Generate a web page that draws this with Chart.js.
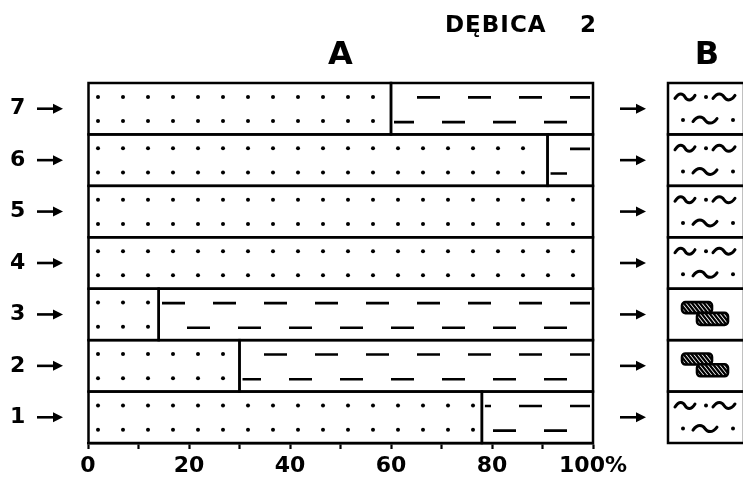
<!DOCTYPE html>
<html>
<head>
<meta charset="utf-8">
<script src="https://cdn.jsdelivr.net/npm/chart.js@4.4.1/dist/chart.umd.min.js"></script>
<style>
  html, body { margin: 0; padding: 0; background: #fff; overflow: hidden; width: 743px; height: 478px; }
  #wrap { position: relative; width: 743px; height: 478px; }
  #grain { position: absolute; left: 0; top: 0; }
  #litho { position: absolute; left: 600px; top: 0; }
</style>
</head>
<body>
<div id="wrap">
  <canvas id="grain" width="743" height="478"></canvas>
  <canvas id="litho" width="160" height="478"></canvas>
</div>
<script>
// Samples, bottom (1) to top (7)
const samples = ['1', '2', '3', '4', '5', '6', '7'];
// Panel A: share of sand (dotted) and clay (dashed), per cent
const sandPct = [78, 30, 14, 100, 100, 91, 60];
const clayPct = [22, 70, 86, 0, 0, 9, 40];
// Panel B: lithology symbol of each sample
const lithology = ['silt', 'nodules', 'nodules', 'silt', 'silt', 'silt', 'silt'];
const columnPct = [100, 100, 100, 100, 100, 100, 100];
// Labelled ticks of the per-cent axis
const pctTicks = [0, 20, 40, 60, 80, 100];
const siteName = 'DĘBICA';
const siteNumber = '2';
const panelTitles = ['A', 'B'];

const INK = '#000';
const FONT = 'DejaVu Sans';

function rectOf(el) {
  const l = Math.min(el.x, el.base), r = Math.max(el.x, el.base);
  return { l, r, t: el.y - el.height / 2, b: el.y + el.height / 2 };
}

function arrow(ctx, x0, x1, y) {
  ctx.save();
  ctx.strokeStyle = INK; ctx.fillStyle = INK; ctx.lineWidth = 2.6;
  ctx.beginPath(); ctx.moveTo(x0, y); ctx.lineTo(x1 - 6, y); ctx.stroke();
  ctx.beginPath(); ctx.moveTo(x1, y); ctx.lineTo(x1 - 10, y - 5); ctx.lineTo(x1 - 10, y + 5); ctx.closePath(); ctx.fill();
  ctx.restore();
}

// Dotted / dashed fills, outlines, arrows and headings of panel A
const grainPlugin = {
  id: 'grainTextures',
  afterDatasetsDraw(chart) {
    const ctx = chart.ctx, area = chart.chartArea;
    const rects = [];
    chart.data.datasets.forEach((ds, di) => {
      chart.getDatasetMeta(di).data.forEach((el, i) => {
        if (!ds.data[i]) return;
        const r = rectOf(el), h = r.b - r.t;
        rects.push(r);
        ctx.save();
        ctx.beginPath(); ctx.rect(r.l + 3, r.t, r.r - r.l - 6, h); ctx.clip();
        ctx.fillStyle = INK; ctx.strokeStyle = INK;
        if (ds.texture === 'dots') {
          for (let x = area.left + 10; x < r.r; x += 25) {
            for (const f of [0.27, 0.74]) {
              ctx.beginPath(); ctx.arc(x, r.t + f * h, 2, 0, Math.PI * 2); ctx.fill();
            }
          }
        } else {
          ctx.lineWidth = 2.6;
          for (const row of [{ f: 0.28, off: 23 }, { f: 0.76, off: 48 }]) {
            const y = r.t + row.f * h;
            ctx.beginPath();
            for (let x = area.left + row.off - 102; x < r.r; x += 51) {
              ctx.moveTo(x, y); ctx.lineTo(x + 23, y);
            }
            ctx.stroke();
          }
        }
        ctx.restore();
      });
    });
    ctx.save();
    ctx.strokeStyle = INK; ctx.lineWidth = 2.5;
    rects.forEach(r => ctx.strokeRect(r.l, r.t, r.r - r.l, r.b - r.t));
    ctx.restore();
  },
  afterDraw(chart) {
    const ctx = chart.ctx, area = chart.chartArea, ys = chart.scales.y;
    samples.forEach((s, i) => {
      const y = ys.getPixelForValue(i);
      arrow(ctx, 37, 63, y);
      arrow(ctx, 620, 646, y);
    });
    ctx.save();
    ctx.fillStyle = INK;
    ctx.textBaseline = 'alphabetic';
    ctx.font = `bold 32px "${FONT}"`;
    ctx.textAlign = 'center';
    ctx.fillText(panelTitles[0], (area.left + area.right) / 2, 64);
    ctx.fillText(panelTitles[1], 707, 64);
    ctx.textAlign = 'left';
    ctx.font = `bold 23px "${FONT}"`;
    ctx.letterSpacing = '1px';
    ctx.fillText(siteName, 445, 32);
    ctx.letterSpacing = '0px';
    ctx.fillText(siteNumber, 580, 32);
    ctx.restore();
  }
};

new Chart(document.getElementById('grain'), {
  type: 'bar',
  data: {
    labels: samples,
    datasets: [
      { label: 'sand', texture: 'dots', data: sandPct, backgroundColor: '#fff', borderWidth: 0, barPercentage: 1, categoryPercentage: 1 },
      { label: 'clay', texture: 'dashes', data: clayPct, backgroundColor: '#fff', borderWidth: 0, barPercentage: 1, categoryPercentage: 1 }
    ]
  },
  options: {
    indexAxis: 'y',
    responsive: false,
    animation: false,
    devicePixelRatio: 1,
    events: [],
    layout: { padding: { top: 83, right: 150, bottom: 0, left: 10 } },
    plugins: { legend: { display: false }, tooltip: { enabled: false } },
    scales: {
      x: {
        type: 'linear', stacked: true, min: 0, max: 100, position: 'bottom',
        afterFit(s) { s.height = 35; },
        grid: { display: true, drawOnChartArea: false, drawTicks: true, tickLength: 6, tickWidth: 2.2, tickColor: INK },
        border: { display: true, color: INK, width: 2.5 },
        ticks: {
          stepSize: 10, autoSkip: false, maxRotation: 0, padding: 4, color: INK,
          font: { family: FONT, size: 22, weight: 'bold' },
          callback: v => pctTicks.includes(v) ? (v === 100 ? v + '%' : String(v)) : ''
        }
      },
      y: {
        type: 'category', stacked: true, reverse: true,
        afterFit(s) { s.width = 78; },
        grid: { display: false, drawTicks: false },
        border: { display: false },
        ticks: { padding: 0, crossAlign: 'far', color: INK, font: { family: FONT, size: 22, weight: 'bold' } }
      }
    }
  },
  plugins: [grainPlugin]
});

// Lithology symbols of panel B
function tilde(ctx, x0, x1, y) {
  const w = x1 - x0;
  ctx.beginPath();
  ctx.moveTo(x0, y + 1.5);
  ctx.bezierCurveTo(x0 + w * 0.2, y - 5, x0 + w * 0.4, y - 3.5, x0 + w * 0.5, y);
  ctx.bezierCurveTo(x0 + w * 0.6, y + 3.5, x0 + w * 0.8, y + 5, x1, y - 1.5);
  ctx.stroke();
}
function dot(ctx, x, y) { ctx.beginPath(); ctx.arc(x, y, 2, 0, Math.PI * 2); ctx.fill(); }
function nodule(ctx, x, y, w, h) {
  ctx.save();
  ctx.beginPath(); ctx.roundRect(x, y, w, h, 3.5);
  ctx.fillStyle = '#fff'; ctx.fill();
  ctx.save(); ctx.clip();
  ctx.lineWidth = 2.3; ctx.lineCap = 'butt';
  ctx.beginPath();
  for (let sx = x - h; sx < x + w + h; sx += 4) { ctx.moveTo(sx, y); ctx.lineTo(sx + h * 0.8, y + h); }
  ctx.stroke();
  ctx.restore();
  ctx.beginPath(); ctx.roundRect(x, y, w, h, 3.5);
  ctx.lineWidth = 2.6; ctx.stroke();
  ctx.restore();
}

const lithoPlugin = {
  id: 'lithoSymbols',
  afterDatasetsDraw(chart) {
    const ctx = chart.ctx;
    chart.getDatasetMeta(0).data.forEach((el, i) => {
      const r = rectOf(el), h = r.b - r.t, L = r.l;
      ctx.save();
      ctx.strokeStyle = INK; ctx.fillStyle = INK; ctx.lineCap = 'round'; ctx.lineWidth = 3;
      if (lithology[i] === 'silt') {
        const y1 = r.t + 0.27 * h, y2 = r.t + 0.72 * h;
        tilde(ctx, L + 7, L + 27, y1); dot(ctx, L + 38, y1); tilde(ctx, L + 45, L + 67, y1);
        dot(ctx, L + 15, y2); tilde(ctx, L + 25, L + 49, y2); dot(ctx, L + 65, y2);
      } else {
        nodule(ctx, L + 14, r.t + 0.26 * h, 30, 11);
        nodule(ctx, L + 29, r.t + 0.47 * h, 31, 12);
      }
      ctx.lineWidth = 2.5; ctx.lineCap = 'butt';
      ctx.strokeRect(r.l, r.t, r.r - r.l, h);
      ctx.restore();
    });
  }
};

new Chart(document.getElementById('litho'), {
  type: 'bar',
  data: {
    labels: samples,
    datasets: [{ label: 'lithology', data: columnPct, backgroundColor: '#fff', borderWidth: 0, barPercentage: 1, categoryPercentage: 1 }]
  },
  options: {
    indexAxis: 'y',
    responsive: false,
    animation: false,
    devicePixelRatio: 1,
    events: [],
    layout: { padding: { top: 83, right: 16, bottom: 35, left: 68 } },
    plugins: { legend: { display: false }, tooltip: { enabled: false } },
    scales: {
      x: { display: false, min: 0, max: 100 },
      y: { display: false, reverse: true }
    }
  },
  plugins: [lithoPlugin]
});
</script>
</body>
</html>
